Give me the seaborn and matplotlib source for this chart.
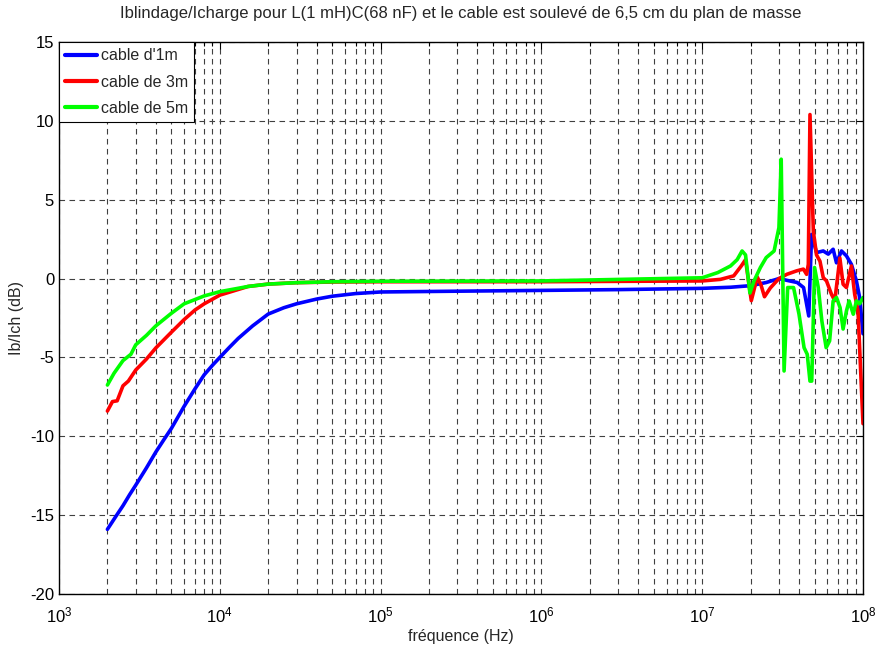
import numpy as np
import pandas as pd
import matplotlib
matplotlib.use("Agg")
import matplotlib.pyplot as plt
import seaborn as sns
from matplotlib.ticker import LogLocator, FixedLocator

# ---- data ----
f_blue = [2e3, 2.25e3, 2.5e3, 2.75e3, 3e3, 3.5e3, 4e3, 4.5e3, 5e3, 6e3, 7e3, 8e3, 9e3, 1e4,
          1.15e4, 1.3e4, 1.6e4, 2e4, 2.5e4, 3e4, 4e4, 5e4, 7e4, 1e5, 3e5, 1e6, 3e6, 1e7,
          1.5e7, 2e7, 2.5e7, 3e7, 3.5e7, 3.9e7, 4.27e7, 4.6e7, 4.79e7, 5.14e7, 5.4e7,
          5.66e7, 6.08e7, 6.52e7, 6.84e7, 7.35e7, 7.89e7, 8.47e7, 9.1e7, 9.53e7, 1e8]
db_blue = [-15.9, -15.1, -14.4, -13.7, -13.1, -12.0, -11.0, -10.2, -9.5, -8.1, -7.0, -6.1,
           -5.5, -5.0, -4.35, -3.8, -3.0, -2.25, -1.85, -1.6, -1.3, -1.12, -0.95, -0.85,
           -0.8, -0.75, -0.7, -0.62, -0.55, -0.45, -0.25, 0.0, -0.15, -0.25, -0.57, -2.37,
           2.8, 1.65, 1.7, 1.75, 1.55, 1.86, 1.0, 1.75, 1.44, 0.9, -0.15, -1.2, -3.5]

f_red = [2e3, 2.15e3, 2.3e3, 2.5e3, 2.7e3, 3e3, 3.5e3, 4e3, 5e3, 6e3, 7e3, 8e3, 1e4,
         1.5e4, 2e4, 3e4, 5e4, 1e5, 1e6, 1e7, 1.3e7, 1.57e7, 1.75e7, 1.86e7, 2.02e7, 2.2e7,
         2.32e7, 2.44e7, 2.65e7, 3.0e7, 3.36e7, 3.87e7, 4.26e7, 4.46e7, 4.57e7, 4.68e7,
         4.91e7, 5.14e7, 5.4e7, 5.66e7, 5.93e7, 6.37e7, 6.68e7, 7.18e7, 7.52e7, 7.89e7,
         8.47e7, 8.88e7, 9.31e7, 9.53e7, 1e8]
db_red = [-8.4, -7.8, -7.75, -6.8, -6.5, -5.8, -5.1, -4.4, -3.4, -2.6, -2.0, -1.6, -1.05,
          -0.5, -0.35, -0.26, -0.22, -0.2, -0.2, -0.15, -0.05, 0.17, 0.8, 1.2, -1.4, 0.1,
          -0.4, -1.15, -0.6, 0.0, 0.27, 0.49, 0.6, 0.27, 0.9, 10.4, 3.0, 1.5, 1.1, 0.06,
          -0.15, -1.0, -1.4, 1.3, -0.36, -0.57, 0.8, -1.0, -2.05, -4.4, -9.2]

f_green = [2e3, 2.2e3, 2.5e3, 2.8e3, 3e3, 3.5e3, 4e3, 5e3, 6e3, 8e3, 1e4, 1.5e4, 2e4,
           3e4, 5e4, 1e5, 1e6, 1e7, 1.25e7, 1.5e7, 1.65e7, 1.77e7, 1.86e7, 1.98e7, 2.1e7,
           2.3e7, 2.5e7, 2.8e7, 3.0e7, 3.1e7, 3.23e7, 3.4e7, 3.7e7, 4.0e7, 4.3e7, 4.5e7,
           4.68e7, 4.8e7, 5.0e7, 5.27e7, 5.55e7, 5.9e7, 6.2e7, 6.52e7, 6.84e7, 7.2e7,
           7.52e7, 7.89e7, 8.2e7, 8.7e7, 9.1e7, 9.53e7, 1e8]
db_green = [-6.75, -6.0, -5.2, -4.8, -4.2, -3.6, -3.0, -2.2, -1.6, -1.1, -0.83, -0.5,
            -0.35, -0.26, -0.2, -0.17, -0.15, 0.05, 0.38, 0.8, 1.2, 1.75, 1.5, -0.92,
            -0.15, 0.7, 1.33, 1.75, 3.23, 7.57, -5.86, -0.57, -0.57, -2.26, -4.38, -4.8,
            -6.5, -6.5, 0.7, -0.57, -2.7, -4.38, -3.95, -1.42, -1.2, -1.84, -3.2, -2.05,
            -1.42, -2.26, -1.42, -1.6, -1.2]

labels = ["cable d'1m", "cable de 3m", "cable de 5m"]
colors = ["#0000ff", "#ff0000", "#00ff00"]

frames = []
for lab, f, d in zip(labels, [f_blue, f_red, f_green], [db_blue, db_red, db_green]):
    frames.append(pd.DataFrame({"freq": f, "db": d, "serie": lab}))
df = pd.concat(frames, ignore_index=True)

sns.set_style("white")
plt.rcParams["font.family"] = ["Liberation Sans", "DejaVu Sans"]
plt.rcParams["mathtext.fontset"] = "custom"
plt.rcParams["mathtext.rm"] = "Liberation Sans"
plt.rcParams["mathtext.it"] = "Liberation Sans"
plt.rcParams["axes.unicode_minus"] = False

fig = plt.figure(figsize=(8.77, 6.49), dpi=100)
ax = fig.add_axes([59 / 877, 1 - 594 / 649, (863 - 59) / 877, (594 - 42) / 649])

sns.lineplot(data=df, x="freq", y="db", hue="serie", palette=colors, hue_order=labels,
             sort=False, estimator=None, units="serie", lw=2.6, ax=ax, legend=False)
ax.set_xscale("log")
ax.set_xlim(1e3, 1e8)
ax.set_ylim(-20, 15)
ax.set_yticks([-20, -15, -10, -5, 0, 5, 10, 15])
ax.xaxis.set_major_locator(FixedLocator([1e3, 1e4, 1e5, 1e6, 1e7, 1e8]))
ax.xaxis.set_minor_locator(LogLocator(base=10, subs=np.arange(2, 10), numticks=50))

gkw = dict(color="#404040", ls=(0, (5, 4)), lw=0.8)
ax.grid(True, which="major", axis="both", **gkw)
ax.grid(True, which="minor", axis="x", **gkw)

ax.tick_params(which="both", direction="in", top=True, right=True, labelsize=12,
               width=0.8, colors="black")
ax.tick_params(which="major", length=5)
ax.tick_params(which="minor", length=3)
ax.tick_params(axis="x", pad=8)
for s in ax.spines.values():
    s.set_color("black")
    s.set_linewidth(1.0)

ax.set_xlabel("fréquence (Hz)", fontsize=11.5, labelpad=3)
ax.set_ylabel("Ib/Ich (dB)", fontsize=11.5, labelpad=4)
ax.set_title("Iblindage/Icharge pour L(1 mH)C(68 nF) et le cable est soulevé de 6,5 cm du plan de masse",
             fontsize=12, pad=17)

handles = [plt.Line2D([], [], color=c, lw=3) for c in colors]
leg = ax.legend(handles, labels, loc="upper left", borderaxespad=0, fontsize=11.5,
                handlelength=2.0, handletextpad=0.2, labelspacing=0.7,
                borderpad=0.4, fancybox=False, framealpha=1, edgecolor="black")
leg.get_frame().set_linewidth(0.8)

fig.savefig("out.png", dpi=100)
